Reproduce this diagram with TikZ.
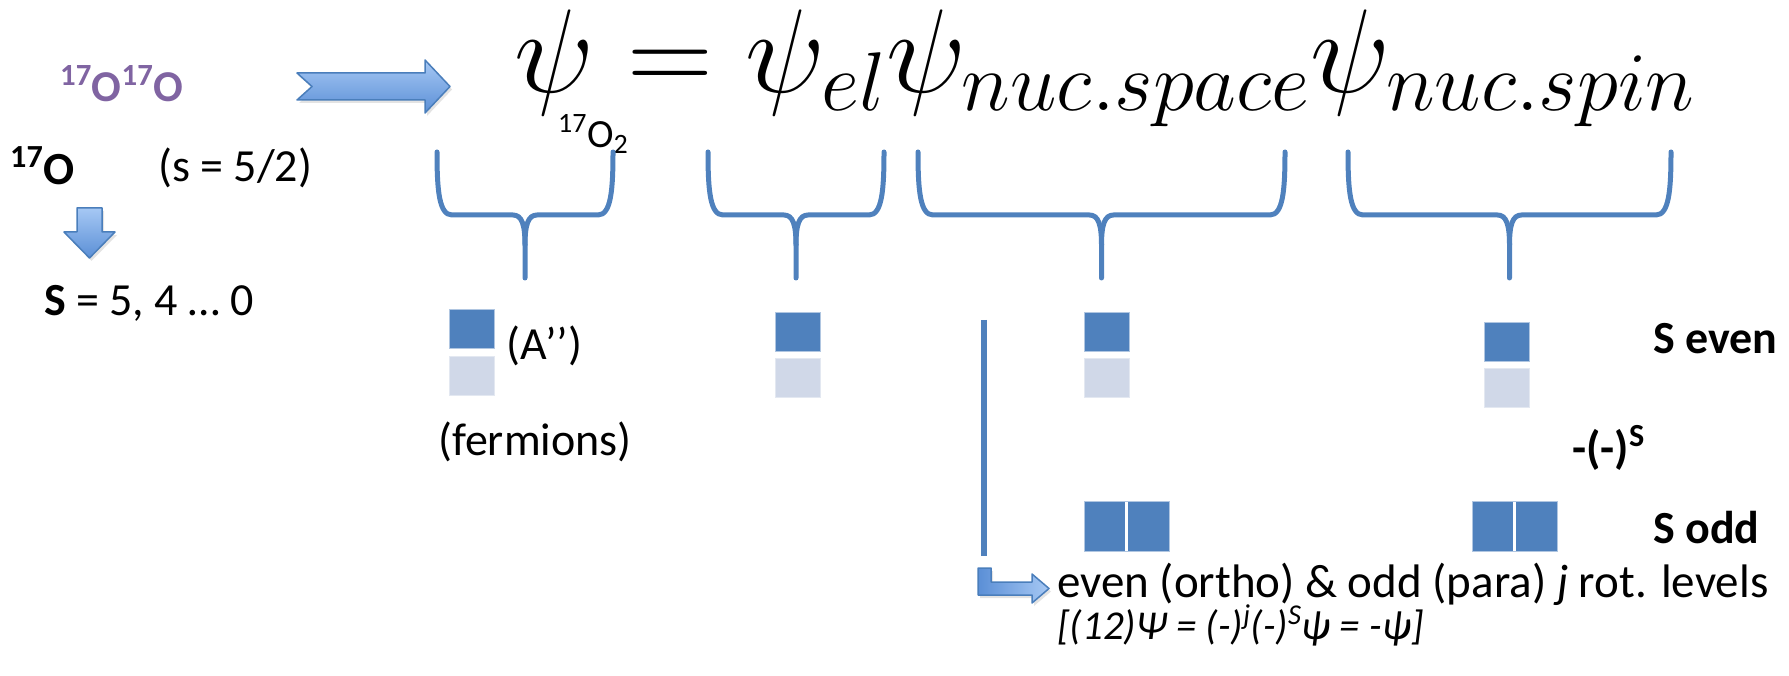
\RequirePackage{fix-cm}
\documentclass[tikz,border=0pt]{standalone}
\usepackage[no-math]{fontspec}
\setmainfont{Carlito}
\usetikzlibrary{shadows}

\definecolor{oblue}{HTML}{4F81BD}
\definecolor{olight}{HTML}{D0D8E8}
\definecolor{opurple}{HTML}{8064A2}
\definecolor{arrtop}{HTML}{A6C8F4}
\definecolor{arrbot}{HTML}{5B8FD6}
\definecolor{arredge}{HTML}{4A7EBB}

\begin{document}
\begin{tikzpicture}[x=1pt, y=-1pt,
    every node/.style={inner sep=0pt, font=\fontsize{46}{55}\selectfont},
    lbl/.style={anchor=west},
    boldlbl/.style={anchor=west, font=\fontsize{46}{55}\selectfont\bfseries},
    fatarrow/.style={draw=arredge, line width=1.5pt, top color=arrtop, bottom color=arrbot,
                     line join=round, drop shadow={opacity=0.22, shadow xshift=2pt, shadow yshift=-3pt}},
    bracket/.style={draw=oblue, line width=5pt, line cap=round, line join=round},
    darkbox/.style={fill=oblue, draw=oblue!45!white, line width=0.8pt, minimum width=45pt, minimum height=39pt},
    lightbox/.style={fill=olight, draw=olight!60!white, line width=0.8pt, minimum width=45pt, minimum height=39pt},
    pairbox/.style={fill=oblue, draw=oblue!45!white, line width=0.8pt, minimum width=85pt, minimum height=50pt,
                    path picture={\draw[white, line width=3.5pt] (path picture bounding box.north)
                                  -- (path picture bounding box.south);}}
]
\useasboundingbox (0,0) rectangle (1789,676);

% left column
\node[boldlbl, text=opurple, font=\fontsize{44}{50}\selectfont\bfseries] (pair) at (60,84) {\textsuperscript{17}O\textsuperscript{17}O};
\node[boldlbl] (iso) at (10,166) {\textsuperscript{17}O};
\node[lbl] (spin) at (158,168) {(s = 5/2)};
\node[lbl] (tot) at (44,303) {\textbf{S} = 5, 4 … 0};

\path[fatarrow] (297,73) -- (425,73) -- (425,60) -- (450,86.5) -- (425,113) -- (425,100)
    -- (297,100) -- (312,86.5) -- cycle;
\path[fatarrow] (77,208) -- (102,208) -- (102,232) -- (115,232) -- (89.5,258) -- (64,232)
    -- (77,232) -- cycle;

% wave function
\node[anchor=base west] (wf) at (514,93) {\fontsize{119}{124}\selectfont$\psi = \psi_{el}\psi_{nuc.space}\psi_{nuc.spin}$};
\node[lbl, font=\fontsize{40}{46}\selectfont] (sub) at (558,134) {\textsuperscript{17}O\textsubscript{2}};

\foreach \l/\r in {437/613, 708/884, 918/1285, 1348/1671} {
    \pgfmathsetmacro\m{(\l+\r)/2}
    \draw[bracket] (\l,152) .. controls (\l,190) and (\l+2,215) .. (\l+15,215) -- (\m-12,215)
        .. controls (\m-3,215) and (\m,225) .. (\m,245) -- (\m,278);
    \draw[bracket] (\r,152) .. controls (\r,190) and (\r-2,215) .. (\r-15,215) -- (\m+12,215)
        .. controls (\m+3,215) and (\m,225) .. (\m,245);
}

% symmetry boxes
\node[darkbox] (elA) at (471.5,329) {};
\node[lightbox] (elB) at (471.5,375.5) {};
\node[darkbox] (orbA) at (797.5,332) {};
\node[lightbox] (orbB) at (797.5,378) {};
\node[darkbox] (rotA) at (1106.5,331.5) {};
\node[lightbox] (rotB) at (1106.5,378) {};
\node[darkbox] (nsA) at (1506.5,341.5) {};
\node[lightbox] (nsB) at (1506.5,388) {};
\node[pairbox] (rotC) at (1126.5,526) {};
\node[pairbox] (nsC) at (1514.5,526) {};

\node[lbl] (asym) at (506,346) {(A’’)};
\node[lbl] (ferm) at (438,442) {(fermions)};
\node[boldlbl] (seven) at (1653,339) {S even};
\node[boldlbl] (sign) at (1572,448) {-(-)\textsuperscript{S}};
\node[boldlbl] (sodd) at (1653,528) {S odd};

% rotational levels
\coordinate (vtop) at (984,320);
\coordinate (vbot) at (984,556);
\draw[oblue, line width=6pt] (vtop) -- (vbot);
\node[lbl, font=\fontsize{47}{55}\selectfont] (rot) at (1057,584) {even (ortho) \& odd (para) \textit{j} rot. levels};
\node[lbl, font=\fontsize{41}{47}\selectfont\itshape] (perm) at (1057,625) {[(12)Ψ = (-)\textsuperscript{j}(-)\textsuperscript{S}ψ = -ψ]};
\path[fatarrow, left color=arrbot, right color=arrtop] (978,568) -- (991,568) -- (991,582) -- (1032,582)
    -- (1032,574) -- (1049,588.5) -- (1032,603) -- (1032,595) -- (978,595) -- cycle;
\end{tikzpicture}
\end{document}
